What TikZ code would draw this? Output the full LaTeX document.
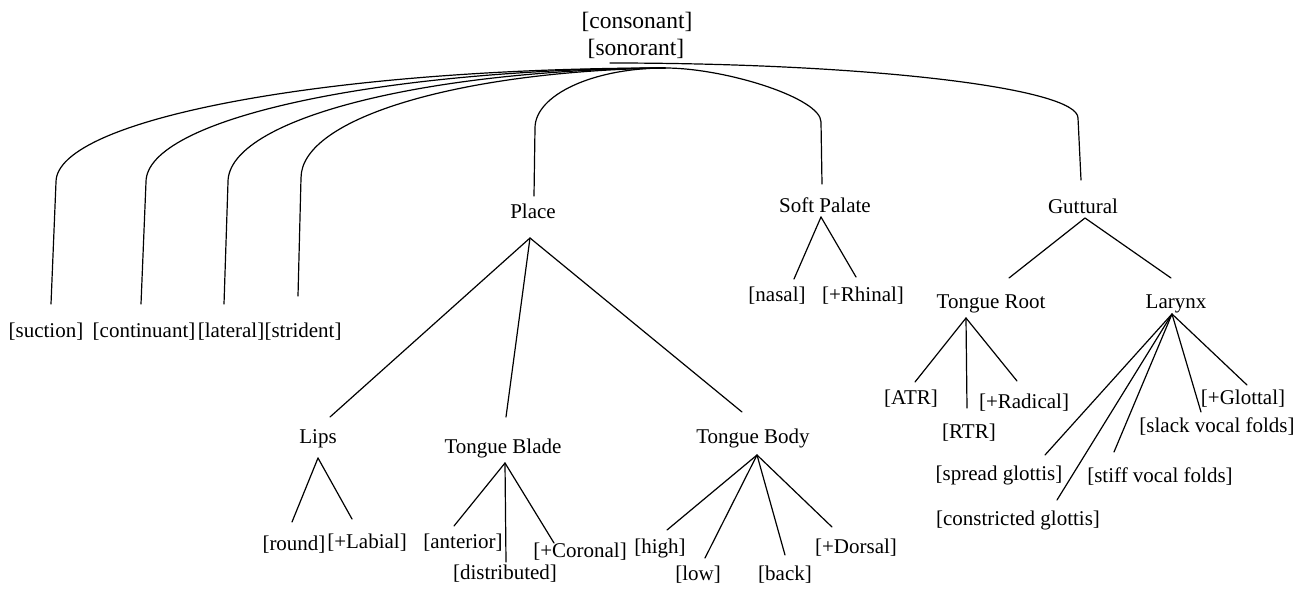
\documentclass[tikz,border=0pt]{standalone}
\usepackage{fontspec}
\setmainfont{Liberation Serif}
\begin{document}
\begin{tikzpicture}[x=1pt,y=-1pt,
  lbl/.style={anchor=base,inner sep=0pt,font=\fontsize{21}{25}\selectfont},
  rootlbl/.style={anchor=base,inner sep=0pt,font=\fontsize{23.5}{28}\selectfont},
  edge/.style={line width=1.2pt,line cap=round,line join=round}]
\useasboundingbox (0,0) rectangle (1296,589);

% ---------- labels ----------
\node[rootlbl] (cons) at (637,28) {[consonant]};
\node[rootlbl] (son)  at (636,55) {[sonorant]};

\node[lbl] (suc) at (46,337)  {[suction]};
\node[lbl] (con) at (144,337) {[continuant]};
\node[lbl] (lat) at (231,337) {[lateral]};
\node[lbl] (str) at (303,337) {[strident]};

\node[lbl] (place) at (533,218)  {Place};
\node[lbl] (soft)  at (825,212)  {Soft Palate};
\node[lbl] (gutt)  at (1083,213) {Guttural};

\node[lbl] (nasal)  at (777,301) {[nasal]};
\node[lbl] (rhinal) at (863,301) {[+Rhinal]};

\node[lbl] (troot) at (991,308)  {Tongue Root};
\node[lbl] (lar)   at (1176,308) {Larynx};

\node[lbl] (atr) at (911,404)  {[ATR]};
\node[lbl] (rtr) at (969,438)  {[RTR]};
\node[lbl] (rad) at (1024,408) {[+Radical]};

\node[lbl] (glot)   at (1243,404) {[+Glottal]};
\node[lbl] (slack)  at (1217,432) {[slack vocal folds]};
\node[lbl] (spread) at (999,480)  {[spread glottis]};
\node[lbl] (stiff)  at (1160,482) {[stiff vocal folds]};
\node[lbl] (constr) at (1018,525) {[constricted glottis]};

\node[lbl] (lips)  at (318,443) {Lips};
\node[lbl] (blade) at (503,453) {Tongue Blade};
\node[lbl] (body)  at (753,443) {Tongue Body};

\node[lbl] (round) at (294,550) {[round]};
\node[lbl] (labl)  at (367,548) {[+Labial]};
\node[lbl] (ant)   at (463,548) {[anterior]};
\node[lbl] (dist)  at (505,579) {[distributed]};
\node[lbl] (cor)   at (580,557) {[+Coronal]};
\node[lbl] (high)  at (660,553) {[high]};
\node[lbl] (low)   at (698,580) {[low]};
\node[lbl] (back)  at (785,580) {[back]};
\node[lbl] (dors)  at (856,553) {[+Dorsal]};

% ---------- attachment points ----------
\coordinate (r0) at (665,68);
\coordinate (rt) at (610,63);

\coordinate (sucB) at (56,182);  \coordinate (sucE) at (51,304);
\coordinate (conB) at (146,182); \coordinate (conE) at (141,304);
\coordinate (latB) at (228,182); \coordinate (latE) at (224,304);
\coordinate (strB) at (301,178); \coordinate (strE) at (298,296);
\coordinate (plB) at (535,128);  \coordinate (plE) at (534,196);
\coordinate (spB) at (821,122);  \coordinate (spE) at (822,184);
\coordinate (guB) at (1078,118); \coordinate (guE) at (1081,180);

\coordinate (plA) at (530,238);
\coordinate (lipsT) at (330,417); \coordinate (bladeT) at (506,417); \coordinate (bodyT) at (742,412);
\coordinate (spA) at (821,217);
\coordinate (nasT) at (794,279); \coordinate (rhiT) at (856,277);
\coordinate (guA) at (1085,218);
\coordinate (trT) at (1009,278); \coordinate (larT) at (1171,278);
\coordinate (lipsA) at (318,458);
\coordinate (rndT) at (292,522); \coordinate (labT) at (352,519);
\coordinate (bladeA) at (505,463);
\coordinate (antT) at (454,526); \coordinate (disT) at (506,562); \coordinate (corT) at (554,543);
\coordinate (bodyA) at (757,455);
\coordinate (higT) at (667,530); \coordinate (lowT) at (705,558); \coordinate (bakT) at (785,555); \coordinate (dorT) at (832,527);
\coordinate (trA) at (966,318);
\coordinate (atrT) at (915,382); \coordinate (rtrT) at (967,408); \coordinate (radT) at (1017,381);
\coordinate (larA) at (1172,314);
\coordinate (sprT) at (1045,455); \coordinate (cgT) at (1057,500); \coordinate (stfT) at (1114,452);
\coordinate (slkT) at (1201,412); \coordinate (glT) at (1247,385);

% ---------- root branches ----------
\draw[edge] (r0) .. controls (329,68) and (56,119) .. (sucB) -- (sucE);
\draw[edge] (r0) .. controls (378,69) and (146,119) .. (conB) -- (conE);
\draw[edge] (r0) .. controls (424,70) and (228,119) .. (latB) -- (latE);
\draw[edge] (r0) .. controls (464,71) and (301,117) .. (strB) -- (strE);
\draw[edge] (r0) .. controls (593,68) and (535,95) .. (plB) -- (plE);
\draw[edge] (r0) .. controls (725,68) and (821,98) .. (spB) -- (spE);
\draw[edge] (rt) .. controls (868,63) and (1078,88) .. (guB) -- (guE);

% ---------- subtrees ----------
\foreach \e in {lipsT,bladeT,bodyT} \draw[edge] (plA) -- (\e);
\foreach \e in {nasT,rhiT} \draw[edge] (spA) -- (\e);
\foreach \e in {trT,larT} \draw[edge] (guA) -- (\e);
\foreach \e in {rndT,labT} \draw[edge] (lipsA) -- (\e);
\foreach \e in {antT,disT,corT} \draw[edge] (bladeA) -- (\e);
\foreach \e in {higT,lowT,bakT,dorT} \draw[edge] (bodyA) -- (\e);
\foreach \e in {atrT,rtrT,radT} \draw[edge] (trA) -- (\e);
\foreach \e in {sprT,cgT,stfT,slkT,glT} \draw[edge] (larA) -- (\e);
\end{tikzpicture}
\end{document}
